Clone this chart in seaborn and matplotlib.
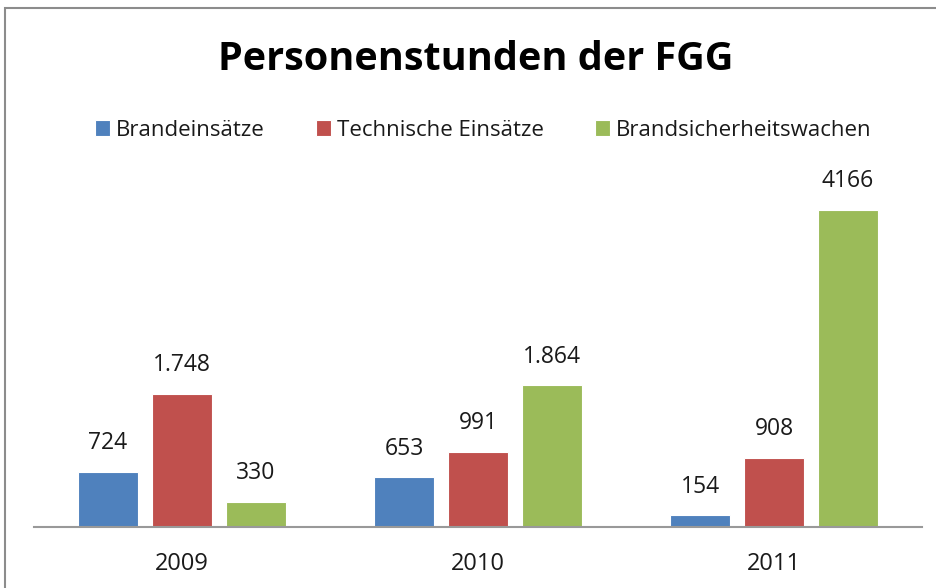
import pandas as pd
import seaborn as sns
import matplotlib.pyplot as plt
from matplotlib.patches import Rectangle

# Daten
jahre = ["2009", "2010", "2011"]
serien = ["Brandeinsätze", "Technische Einsätze", "Brandsicherheitswachen"]
brand = [724, 653, 154]
technisch = [1748, 991, 908]
wachen = [330, 1864, 4166]
beschriftung = [["724", "653", "154"],
                ["1.748", "991", "908"],
                ["330", "1.864", "4166"]]
farben = ["#4F81BD", "#C0504D", "#9BBB59"]

df = pd.DataFrame({
    "Jahr": jahre * 3,
    "Serie": [s for s in serien for _ in jahre],
    "Stunden": brand + technisch + wachen,
})

sns.set_style("white")
plt.rcParams["font.family"] = ["Open Sans", "DejaVu Sans"]

fig = plt.figure(figsize=(9.36, 5.88), dpi=100)
ax = fig.add_axes([34 / 936, 61 / 588, 888 / 936, 350 / 588])

sns.barplot(data=df, x="Jahr", y="Stunden", hue="Serie", order=jahre,
            hue_order=serien, palette=farben, saturation=1, width=0.75, gap=0.19,
            edgecolor="white", linewidth=0.8, ax=ax)

# Datenbeschriftungen
for cont, labels in zip(ax.containers, beschriftung):
    ax.bar_label(cont, labels=labels, padding=12, fontsize=16.5, color="#1a1a1a")

ax.set_xlim(-0.5, 2.5)
ax.set_ylim(0, 4600)
ax.set_xlabel("")
ax.set_ylabel("")
ax.set_yticks([])
ax.tick_params(axis="x", length=0, labelsize=17, pad=18, colors="#1a1a1a")
for s in ["top", "left", "right"]:
    ax.spines[s].set_visible(False)
ax.spines["bottom"].set_color("#999999")
ax.spines["bottom"].set_linewidth(1.5)

# Legende
h, l = ax.get_legend_handles_labels()
ax.get_legend().remove()
fig.legend(h, l, loc="center", bbox_to_anchor=(483 / 936, 1 - 130 / 588), ncol=3,
           frameon=False, fontsize=16, handlelength=0.7, handleheight=0.7,
           handletextpad=0.25, columnspacing=2.3, labelcolor="#1a1a1a")

fig.text(476 / 936, 1 - 60 / 588, "Personenstunden der FGG", ha="center",
         va="center", fontsize=28.5, fontweight="bold", color="black")

# Rahmen
fig.patches.append(Rectangle((5 / 936, -0.1), 1.2, 1 - 8 / 588 + 0.1,
                             transform=fig.transFigure, fill=False,
                             edgecolor="#8c8c8c", linewidth=1.5))

fig.savefig("out.png", dpi=100, facecolor="white")
